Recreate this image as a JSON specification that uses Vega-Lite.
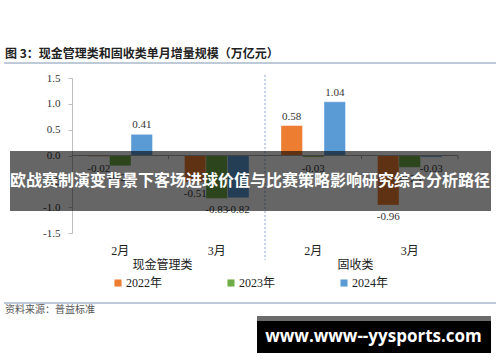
{
  "$schema": "https://vega.github.io/schema/vega-lite/v6.json",
  "width": 386,
  "height": 155,
  "autosize": {"type": "none"},
  "padding": {"left": 72, "top": 78, "right": 42, "bottom": 129},
  "background": "white",
  "config": {"view": {"stroke": null}, "axis": {"labelOverlap": false}},
  "datasets": {
    "bars": [
      {"cat": "现金管理类|2月", "year": "2022年", "value": -0.02},
      {"cat": "现金管理类|2月", "year": "2023年", "value": -0.20},
      {"cat": "现金管理类|2月", "year": "2024年", "value": 0.41},
      {"cat": "现金管理类|3月", "year": "2022年", "value": -0.51},
      {"cat": "现金管理类|3月", "year": "2023年", "value": -0.83},
      {"cat": "现金管理类|3月", "year": "2024年", "value": -0.82},
      {"cat": "固收类|2月", "year": "2022年", "value": 0.58},
      {"cat": "固收类|2月", "year": "2023年", "value": -0.03},
      {"cat": "固收类|2月", "year": "2024年", "value": 1.04},
      {"cat": "固收类|3月", "year": "2022年", "value": -0.96},
      {"cat": "固收类|3月", "year": "2023年", "value": -0.23},
      {"cat": "固收类|3月", "year": "2024年", "value": -0.03}
    ]
  },
  "layer": [
    {
      "encoding": {
        "y": {
          "field": "value", "type": "quantitative",
          "scale": {"domain": [-1.5, 1.5], "nice": false, "zero": false},
          "axis": {"values": [-1.5, -1, -0.5, 0, 0.5, 1, 1.5], "format": ".1f", "labelExpr": "replace(datum.label, '−', '-')", "labelOverlap": false, "title": null, "grid": false, "domainColor": "#bfbfbf", "tickColor": "#bfbfbf", "tickSize": 4, "labelPadding": 8, "labelFont": "Liberation Serif", "labelFontSize": 11, "labelColor": "#333333"}
        }
      },
      "layer": [
        {
          "data": {"name": "bars"},
          "mark": {"type": "bar", "stroke": "#ffffff", "strokeOpacity": 0.5, "strokeWidth": 0.8},
          "encoding": {
            "x": {
              "field": "cat", "type": "nominal", "sort": null,
              "scale": {"domain": ["现金管理类|2月", "现金管理类|3月", "固收类|2月", "固收类|3月"], "paddingInner": 0, "paddingOuter": 0},
              "axis": {"labelExpr": "split(datum.label, '|')[1]", "title": null, "domain": false, "ticks": false, "labelPadding": 12, "labelAngle": 0, "labelFont": "Liberation Serif, Noto Sans CJK SC", "labelFontSize": 12, "labelFontWeight": "normal", "labelColor": "#222222"}
            },
            "xOffset": {"field": "year", "type": "nominal", "scale": {"domain": ["2022年", "2023年", "2024年"], "paddingInner": 0, "paddingOuter": 0.744}},
            "color": {
              "field": "year", "type": "nominal",
              "scale": {"domain": ["2022年", "2023年", "2024年"], "range": ["#ED7D31", "#70AD47", "#5B9BD5"]},
              "legend": {"orient": "none", "legendX": 40, "legendY": 199, "direction": "horizontal", "title": null, "symbolType": "square", "symbolSize": 50, "symbolStrokeWidth": 0, "labelFont": "Liberation Serif, Noto Sans CJK SC", "labelFontSize": 12, "labelColor": "#222222", "labelOffset": 2, "columnPadding": 62, "gridAlign": "all"}
            }
          }
        },
        {
          "data": {"values": [{"value": 0}]},
          "mark": {"type": "rule", "color": "#a6a6a6", "strokeWidth": 1},
          "encoding": {}
        },
        {
          "data": {"name": "bars"},
          "transform": [{"filter": "datum.value >= 0"}, {"calculate": "replace(format(datum.value, '.2f'), '−', '-')", "as": "lab"}],
          "mark": {"type": "text", "baseline": "bottom", "dy": -4, "font": "Liberation Serif", "fontSize": 11, "color": "#333333"},
          "encoding": {
            "x": {"field": "cat", "type": "nominal", "sort": null},
            "xOffset": {"field": "year", "type": "nominal", "scale": {"domain": ["2022年", "2023年", "2024年"], "paddingInner": 0, "paddingOuter": 0.744}},
            "text": {"field": "lab"}
          }
        },
        {
          "data": {"name": "bars"},
          "transform": [{"filter": "datum.value < 0"}, {"calculate": "replace(format(datum.value, '.2f'), '−', '-')", "as": "lab"}],
          "mark": {"type": "text", "baseline": "top", "dy": 6, "font": "Liberation Serif", "fontSize": 11, "color": "#333333"},
          "encoding": {
            "x": {"field": "cat", "type": "nominal", "sort": null},
            "xOffset": {"field": "year", "type": "nominal", "scale": {"domain": ["2022年", "2023年", "2024年"], "paddingInner": 0, "paddingOuter": 0.744}},
            "text": {"field": "lab"}
          }
        },
        {
          "data": {"values": [{"cat": "现金管理类|2月", "value": 0, "v2": -0.07}, {"cat": "固收类|2月", "value": 0, "v2": -0.07}, {"cat": "固收类|3月", "value": 0, "v2": -0.07}]},
          "mark": {"type": "rule", "color": "#a6a6a6", "strokeWidth": 1},
          "encoding": {
            "x": {"field": "cat", "type": "nominal", "sort": null, "bandPosition": 1},
            "y2": {"field": "v2"}
          }
        },
        {
          "data": {"values": [{"cat": "现金管理类|3月", "value": 1.558, "v2": -2.023}]},
          "mark": {"type": "rule", "color": "#8eaadb", "strokeWidth": 1, "strokeDash": [2, 2]},
          "encoding": {
            "x": {"field": "cat", "type": "nominal", "sort": null, "bandPosition": 1},
            "y2": {"field": "v2"}
          }
        },
        {
          "data": {"values": [{"cat": "现金管理类|2月", "label": "现金管理类", "value": -2.119}, {"cat": "固收类|2月", "label": "固收类", "value": -2.119}]},
          "mark": {"type": "text", "dx": -6, "font": "Noto Sans CJK SC", "fontSize": 12, "color": "#222222", "baseline": "middle", "align": "center"},
          "encoding": {
            "x": {"field": "cat", "type": "nominal", "sort": null, "bandPosition": 1},
            "text": {"field": "label"}
          }
        }
      ]
    },
    {
      "layer": [
        {
          "data": {"values": [{"x": -0.1736, "y": 1.9645, "t": "图 3：现金管理类和固收类单月增量规模（万亿元）"}]},
          "mark": {"type": "text", "align": "left", "baseline": "middle", "font": "Noto Sans CJK SC", "fontSize": 12, "fontWeight": "bold", "color": "#222222"},
          "encoding": {
            "x": {"field": "x", "type": "quantitative", "scale": {"domain": [0, 1], "nice": false, "zero": false}, "axis": null},
            "y": {"field": "y", "type": "quantitative", "scale": {"domain": [-1.5, 1.5], "nice": false, "zero": false}, "axis": null},
            "text": {"field": "t"}
          }
        },
        {
          "data": {"values": [{"x": -0.1762, "x2": 1.0984, "y": 1.79}, {"x": -0.1762, "x2": 1.0984, "y": -2.855}]},
          "mark": {"type": "rule", "color": "#a9b9cb", "strokeWidth": 1.5},
          "encoding": {
            "x": {"field": "x", "type": "quantitative", "axis": null},
            "x2": {"field": "x2"},
            "y": {"field": "y", "type": "quantitative", "axis": null}
          }
        },
        {
          "data": {"values": [{"x": -0.1736, "y": -2.99, "t": "资料来源：普益标准"}]},
          "mark": {"type": "text", "align": "left", "baseline": "middle", "font": "Noto Sans CJK SC", "fontSize": 10, "color": "#555555"},
          "encoding": {
            "x": {"field": "x", "type": "quantitative", "axis": null},
            "y": {"field": "y", "type": "quantitative", "axis": null},
            "text": {"field": "t"}
          }
        },
        {
          "data": {"values": [{"x": -0.1606, "x2": 1.0855, "y": 0.087, "y2": -1.074}]},
          "mark": {"type": "rect", "color": "#000000", "opacity": 0.6},
          "encoding": {
            "x": {"field": "x", "type": "quantitative", "axis": null},
            "x2": {"field": "x2"},
            "y": {"field": "y", "type": "quantitative", "axis": null},
            "y2": {"field": "y2"}
          }
        },
        {
          "data": {"values": [{"x": 0.4611, "y": -0.494, "t": "欧战赛制演变背景下客场进球价值与比赛策略影响研究综合分析路径"}]},
          "mark": {"type": "text", "align": "center", "baseline": "middle", "font": "Noto Sans CJK SC", "fontSize": 16, "fontWeight": "bold", "color": "#ffffff"},
          "encoding": {
            "x": {"field": "x", "type": "quantitative", "axis": null},
            "y": {"field": "y", "type": "quantitative", "axis": null},
            "text": {"field": "t"}
          }
        },
        {
          "data": {"values": [{"x": 0.4793, "x2": 1.0855, "y": -3.106, "y2": -3.823, "c": "#000000"}, {"x": 0.4793, "x2": 1.0855, "y": -3.106, "y2": -3.203, "c": "#6b6b6b"}]},
          "mark": {"type": "rect"},
          "encoding": {
            "x": {"field": "x", "type": "quantitative", "axis": null},
            "x2": {"field": "x2"},
            "y": {"field": "y", "type": "quantitative", "axis": null},
            "y2": {"field": "y2"},
            "color": {"field": "c", "type": "nominal", "scale": null, "legend": null}
          }
        },
        {
          "data": {"values": [{"x": 0.7811, "y": -3.513, "t": "www.www--yysports.com"}]},
          "mark": {"type": "text", "align": "center", "baseline": "middle", "font": "Open Sans", "fontSize": 17, "fontWeight": "bold", "color": "#ffffff"},
          "encoding": {
            "x": {"field": "x", "type": "quantitative", "axis": null},
            "y": {"field": "y", "type": "quantitative", "axis": null},
            "text": {"field": "t"}
          }
        }
      ]
    }
  ],
  "resolve": {"scale": {"x": "independent", "y": "independent", "color": "independent"}}
}
